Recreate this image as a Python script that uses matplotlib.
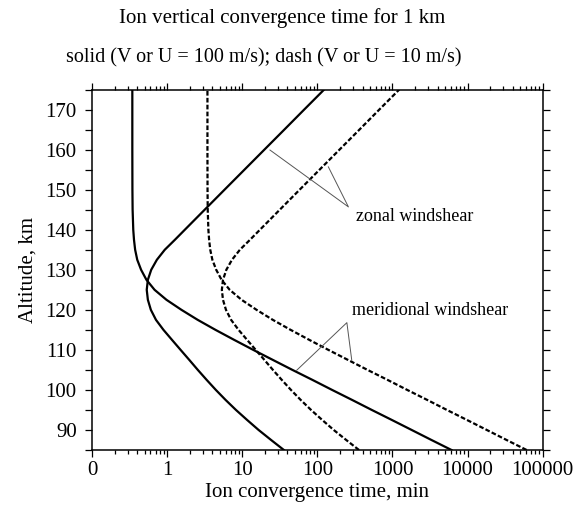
import matplotlib
matplotlib.use("Agg")
import matplotlib.pyplot as plt
from matplotlib.ticker import LogLocator, NullFormatter, MultipleLocator

plt.rcParams["font.family"] = ["Liberation Serif", "DejaVu Serif"]

# altitude grids (km)
alt_mer = [85, 87.5, 90, 92.5, 95, 97.5, 100, 102.5, 105, 107.5, 110, 112.5, 115,
           117.5, 120, 122.5, 125, 127.5, 130, 132.5, 135, 137.5, 140, 145, 150, 160, 175]
alt_zon = [85, 87.5, 90, 92.5, 95, 97.5, 100, 102.5, 105, 107.5, 110, 112.5, 115,
           117.5, 120, 122.5, 125, 127.5, 130, 132.5, 135, 137.5, 140, 145, 150,
           155, 160, 165, 170, 175]

# meridional windshear, convergence time (min)
mer_100 = [6100, 3300, 1800, 980, 530, 290, 157, 86, 46.5, 25.5, 14, 7.8, 4.4,
           2.55, 1.55, 0.98, 0.68, 0.53, 0.45, 0.40, 0.375, 0.362, 0.354, 0.347, 0.345, 0.344, 0.344]
mer_10 = [61000, 33000, 18000, 9800, 5300, 2900, 1570, 860, 465, 255, 140, 78, 44,
          25.5, 15.5, 9.8, 6.8, 5.3, 4.5, 4.0, 3.75, 3.62, 3.54, 3.47, 3.45, 3.44, 3.44]

# zonal windshear, convergence time (min)
zon_100 = [35.8, 24.2, 16.5, 11.6, 8.24, 6.0, 4.45, 3.36, 2.56, 1.97, 1.51, 1.16, 0.893,
           0.71, 0.607, 0.554, 0.535, 0.554, 0.614, 0.73, 0.93, 1.27, 1.72, 3.16, 5.81,
           10.7, 19.7, 36.3, 66.7, 123]
zon_10 = [358, 242, 165, 116, 82.4, 60, 44.5, 33.6, 25.6, 19.7, 15.1, 11.6, 8.93,
          7.1, 6.07, 5.54, 5.35, 5.54, 6.14, 7.3, 9.3, 12.7, 17.2, 31.6, 58.1,
          107, 197, 363, 667, 1229]

xticks = [0.1, 1, 10, 100, 1000, 10000, 100000]
xlabels = ["0", "1", "10", "100", "1000", "10000", "100000"]

fig = plt.figure(figsize=(5.88, 5.11), dpi=100)
ax = fig.add_axes([0.1565, 0.1194, 0.7665, 0.7053])

lw = 1.6
dash = (0, (2.1, 1.0))
ax.plot(mer_100, alt_mer, color="black", lw=lw)
ax.plot(zon_100, alt_zon, color="black", lw=lw)
ax.plot(mer_10, alt_mer, color="black", lw=lw, linestyle=dash)
ax.plot(zon_10, alt_zon, color="black", lw=lw, linestyle=dash)

ax.set_xscale("log")
ax.set_xlim(0.1, 100000)
ax.set_ylim(85, 175)
ax.set_xticks(xticks, xlabels)
ax.xaxis.set_minor_locator(LogLocator(base=10, subs=range(2, 10), numticks=20))
ax.xaxis.set_minor_formatter(NullFormatter())
ax.yaxis.set_major_locator(MultipleLocator(10))
ax.yaxis.set_minor_locator(MultipleLocator(5))
ax.set_yticks(range(90, 171, 10))

for s in ax.spines.values():
    s.set_linewidth(1.1)
ax.tick_params(which="both", direction="out", top=True, right=True, width=0.9, labelsize=15)
ax.tick_params(axis="x", which="major", length=4.8, pad=3)
ax.tick_params(axis="x", which="minor", length=2.9)
ax.tick_params(axis="y", which="both", length=5, pad=6)

ax.set_xlabel("Ion convergence time, min", fontsize=15, labelpad=2)
ax.set_ylabel("Altitude, km", fontsize=15, labelpad=6)

# annotations
ann_col = "#555555"
ax.plot([23.4, 259, 140], [159.9, 145.7, 155.7], color=ann_col, lw=0.7)
ax.text(330, 143.2, "zonal windshear", fontsize=13, va="center", ha="left")
ax.plot([53, 247, 287], [104.9, 116.8, 107.4], color=ann_col, lw=0.7)
ax.text(290, 119.9, "meridional windshear", fontsize=13, va="center", ha="left")

fig.text(0.48, 0.964, "Ion vertical convergence time for 1 km", fontsize=15,
         ha="center", va="center")
fig.text(0.449, 0.886, "solid (V or U = 100 m/s); dash (V or U = 10 m/s)", fontsize=14.5,
         ha="center", va="center")

fig.savefig("out.png", dpi=100)
